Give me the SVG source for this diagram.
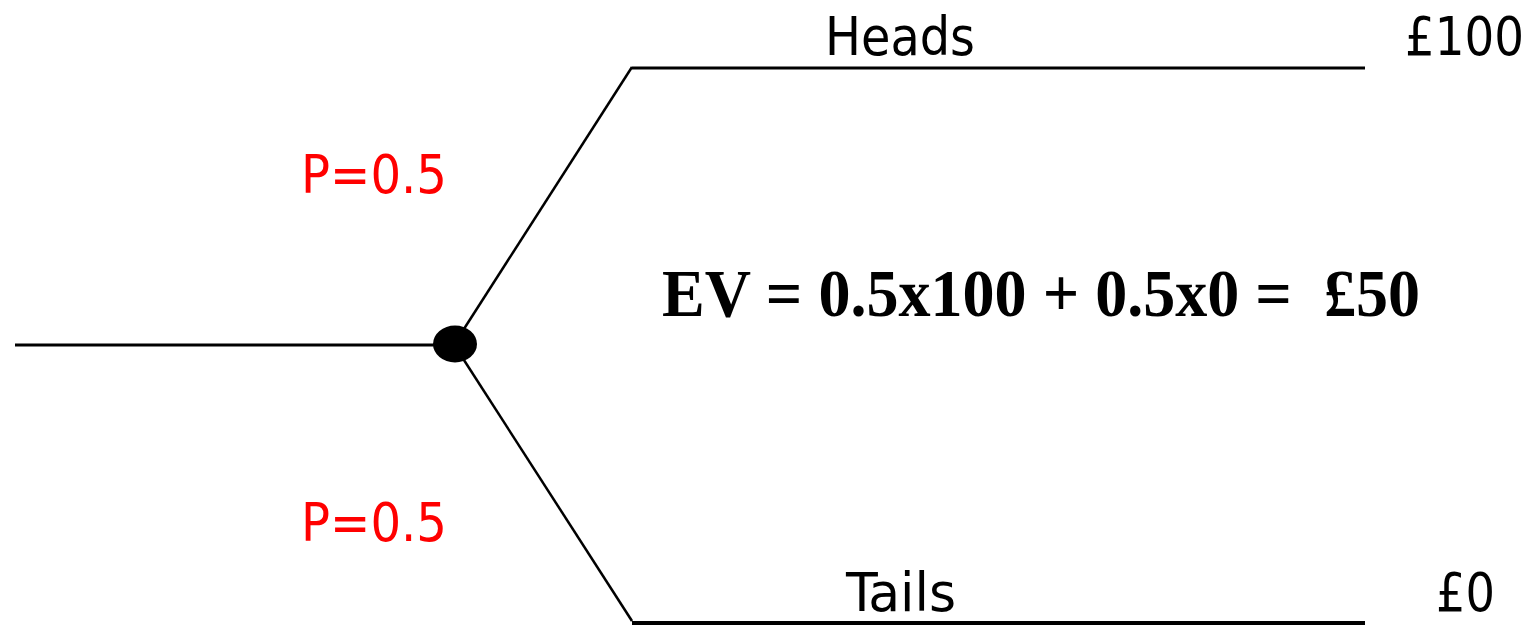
<svg xmlns="http://www.w3.org/2000/svg" width="1536" height="626" viewBox="0 0 1536 626">
<style>
.lbl{font-family:"DejaVu Sans Condensed","DejaVu Sans",sans-serif;font-size:54px;fill:#000}
.p{fill:#ff0000}
.ev{font-family:"Liberation Serif",serif;font-weight:bold;font-size:67px;fill:#000;white-space:pre}
.ln{stroke:#000;fill:none;stroke-linecap:butt}
</style>
<rect width="1536" height="626" fill="#fff"/>
<g id="connectors">
<line class="ln" x1="15" y1="345" x2="440" y2="345" stroke-width="3"/>
<line class="ln" x1="462" y1="332" x2="632" y2="67" stroke-width="2.5"/>
<line class="ln" x1="462" y1="357" x2="632" y2="621" stroke-width="2.5"/>
<line class="ln" x1="632" y1="68" x2="1365" y2="68" stroke-width="3"/>
<line class="ln" x1="632" y1="623" x2="1365" y2="623" stroke-width="4"/>
</g>
<g id="chance-node">
<ellipse cx="455" cy="344" rx="22" ry="18.5" fill="#000"/>
</g>
<g id="heads">
<text class="lbl" x="825" y="55" textLength="150" lengthAdjust="spacingAndGlyphs">Heads</text>
</g>
<g id="payoff-heads">
<text class="lbl" x="1405" y="55" textLength="119" lengthAdjust="spacingAndGlyphs">£100</text>
</g>
<g id="tails">
<text class="lbl" x="846" y="611" textLength="110" lengthAdjust="spacingAndGlyphs">Tails</text>
</g>
<g id="payoff-tails">
<text class="lbl" x="1436" y="611" textLength="59" lengthAdjust="spacingAndGlyphs">£0</text>
</g>
<g id="prob-upper">
<text class="lbl p" x="301" y="193" textLength="146" lengthAdjust="spacingAndGlyphs">P=0.5</text>
</g>
<g id="prob-lower">
<text class="lbl p" x="301" y="541" textLength="146" lengthAdjust="spacingAndGlyphs">P=0.5</text>
</g>
<g id="ev">
<text class="ev" x="662" y="316" textLength="758" lengthAdjust="spacingAndGlyphs" xml:space="preserve">EV = 0.5x100 + 0.5x0 =  £50</text>
</g>
</svg>
